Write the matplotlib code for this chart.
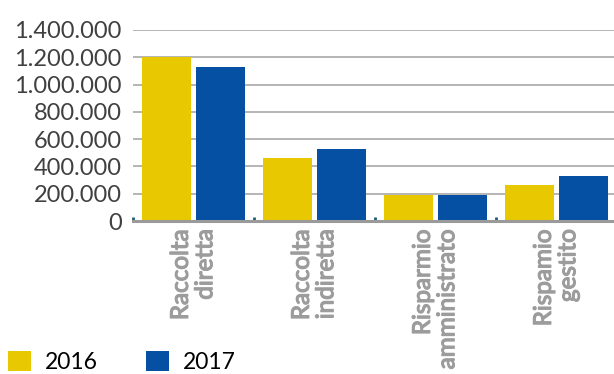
import numpy as np
import matplotlib.pyplot as plt
import matplotlib.patheffects as pe
from matplotlib.ticker import FuncFormatter

categorie = ['Raccolta\ndiretta', 'Raccolta\nindiretta', 'Risparmio\namministrato', 'Rispamio\ngestito']
anni = ['2016', '2017']
valori_2016 = [1200000, 462000, 190000, 264000]
valori_2017 = [1128000, 527000, 188000, 330000]
colori = ['#E8C800', '#0550A3']

plt.rcParams['font.family'] = ['Lato', 'DejaVu Sans']

fig = plt.figure(figsize=(6.14, 3.74), dpi=100)
ax = fig.add_axes([133 / 614, 1 - 221 / 374, 484 / 614, 191 / 374])

x = np.arange(len(categorie))
w = 0.405
ax.bar(x - 0.226, valori_2016, w, color=colori[0], label=anni[0], zorder=3)
ax.bar(x + 0.220, valori_2017, w, color=colori[1], label=anni[1], zorder=3)

ax.set_xlim(-0.5, 3.5)
ax.set_ylim(0, 1400000)
ax.set_yticks(np.arange(0, 1400001, 200000))
ax.yaxis.set_major_formatter(FuncFormatter(lambda v, p: f'{int(v):,}'.replace(',', '.')))
ax.tick_params(axis='y', length=0, pad=8, labelsize=17, labelcolor='#404040')

# etichette categorie (grassetto simulato) + tacche sui confini
ax.set_xticks(x)
ax.set_xticklabels(categorie, rotation=90, va='top', ha='center', multialignment='right',
                   fontsize=17.5, color='#9c9c9c', linespacing=1.2)
for t in ax.get_xticklabels():
    t.set_path_effects([pe.withStroke(linewidth=0.9, foreground='#9c9c9c')])
ax.tick_params(axis='x', length=0, pad=6)
ax.set_xticks(np.arange(-0.5, 4.0, 1.0), minor=True)
ax.tick_params(axis='x', which='minor', direction='in', length=3, width=2, color='#1d5a7a')

ax.grid(axis='y', color='#a8a8a8', linewidth=1.2, zorder=0)
for s in ['top', 'right', 'left']:
    ax.spines[s].set_visible(False)
ax.spines['bottom'].set_color('#9a9a9a')
ax.spines['bottom'].set_linewidth(2.2)
ax.spines['bottom'].set_zorder(4)

fig.legend(loc='lower left', bbox_to_anchor=(0.013, 0.003), ncol=2, frameon=False,
           fontsize=16.5, handlelength=1.0, handleheight=1.0, handletextpad=0.6,
           columnspacing=2.1, borderaxespad=0.0, borderpad=0.0)

fig.savefig('out.png', dpi=100)
